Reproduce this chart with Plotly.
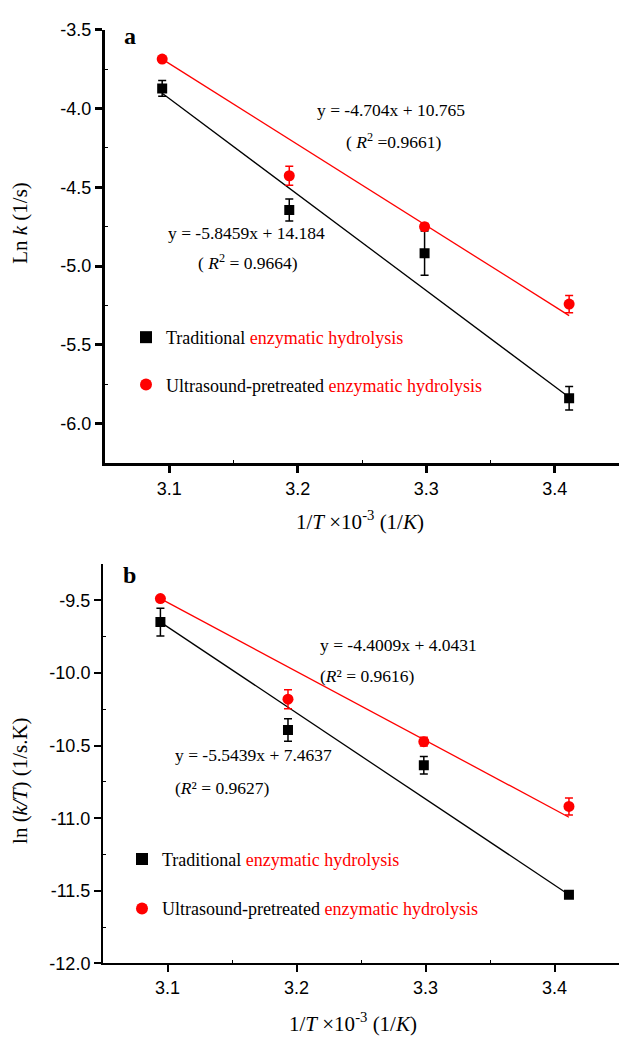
import plotly.graph_objects as go

# ---------------- data ----------------
x_vals = [3.0945, 3.1934, 3.2987, 3.4112]
fit_x = [3.0945, 3.4112]

a_trad = [-3.873, -4.644, -4.918, -5.838]
a_trad_err = [0.05, 0.07, 0.14, 0.075]
a_ultra = [-3.687, -4.427, -4.750, -5.241]
a_ultra_err = [0.0, 0.06, 0.02, 0.055]
a_trad_fit = [-3.904, -5.832]
a_ultra_fit = [-3.687, -5.314]

b_trad = [-9.649, -10.392, -10.635, -11.527]
b_trad_err = [0.095, 0.078, 0.06, 0.0]
b_ultra = [-9.487, -10.180, -10.473, -10.919]
b_ultra_err = [0.0, 0.065, 0.03, 0.058]
b_trad_fit = [-9.649, -11.527]
b_ultra_fit = [-9.487, -10.993]

trad_name = "Traditional <span style='color:#ff0000'>enzymatic hydrolysis</span>"
ultra_name = "Ultrasound-pretreated <span style='color:#ff0000'>enzymatic hydrolysis</span>"

SERIF = "Liberation Serif"
SANS = "Liberation Sans"
W, H = 619, 1045

fig = go.Figure()

def add_panel(xa, ya, trad, trad_err, ultra, ultra_err, trad_fit, ultra_fit, legend):
    fig.add_trace(go.Scatter(x=fit_x, y=trad_fit, mode="lines", line=dict(color="black", width=1.3),
                             xaxis=xa, yaxis=ya, showlegend=False, hoverinfo="skip"))
    fig.add_trace(go.Scatter(x=fit_x, y=ultra_fit, mode="lines", line=dict(color="#ff0000", width=1.3),
                             xaxis=xa, yaxis=ya, showlegend=False, hoverinfo="skip"))
    fig.add_trace(go.Scatter(x=x_vals, y=trad, mode="markers", name=trad_name,
                             marker=dict(symbol="square", color="black", size=10),
                             error_y=dict(type="data", array=trad_err, color="black", thickness=1.5, width=4),
                             xaxis=xa, yaxis=ya, legend=legend, legendgroup=legend + "t"))
    fig.add_trace(go.Scatter(x=x_vals, y=ultra, mode="markers", name=ultra_name,
                             marker=dict(symbol="circle", color="#ff0000", size=11),
                             error_y=dict(type="data", array=ultra_err, color="#ff0000", thickness=1.5, width=4),
                             xaxis=xa, yaxis=ya, legend=legend, legendgroup=legend + "u"))

add_panel("x", "y", a_trad, a_trad_err, a_ultra, a_ultra_err, a_trad_fit, a_ultra_fit, "legend")
add_panel("x2", "y2", b_trad, b_trad_err, b_ultra, b_ultra_err, b_trad_fit, b_ultra_fit, "legend2")

tickfont = dict(family=SANS, size=18, color="black")

def xaxis(domain, anchor, lw):
    return dict(domain=domain, anchor=anchor, range=[3.05, 3.45], tickvals=[3.1, 3.2, 3.3, 3.4],
                ticktext=["3.1", "3.2", "3.3", "3.4"], ticks="outside", ticklen=7, tickwidth=lw,
                tickcolor="black", showline=True, linecolor="black", linewidth=lw, showgrid=False,
                zeroline=False, tickfont=tickfont,
                minor=dict(tickvals=[3.15, 3.25, 3.35], ticks="inside", ticklen=3, tickwidth=1, tickcolor="black"))

def yaxis(domain, anchor, rng, tv, lw, minor):
    return dict(domain=domain, anchor=anchor, range=rng, tickvals=tv, ticktext=["%.1f" % v for v in tv],
                ticks="outside", ticklen=7, tickwidth=lw, tickcolor="black", showline=True,
                linecolor="black", linewidth=lw, showgrid=False, zeroline=False, tickfont=tickfont,
                minor=dict(tickvals=minor, ticks="inside", ticklen=3, tickwidth=1, tickcolor="black"))

def py(pix):
    return 1 - pix / H

fig.update_layout(
    width=W, height=H,
    margin=dict(l=0, r=0, t=0, b=0),
    paper_bgcolor="white", plot_bgcolor="white",
    xaxis=xaxis([105 / W, 1.0], "y", 3),
    yaxis=yaxis([py(462), py(20)], "x", [-6.25, -3.5], [-6.0, -5.5, -5.0, -4.5, -4.0, -3.5], 3,
                [-5.75, -5.25, -4.75, -4.25, -3.75]),
    xaxis2=xaxis([103 / W, 1.0], "y2", 2),
    yaxis2=yaxis([py(972), py(565)], "x2", [-12.0, -9.25],
                 [-12.0, -11.5, -11.0, -10.5, -10.0, -9.5], 2, [-11.75, -11.25, -10.75, -10.25, -9.75]),
    legend=dict(x=126 / W, y=py(315), xanchor="left", yanchor="top", bgcolor="rgba(0,0,0,0)",
                font=dict(family=SERIF, size=18, color="black"), tracegroupgap=21, itemsizing="constant"),
    legend2=dict(x=122 / W, y=py(847), xanchor="left", yanchor="top", bgcolor="rgba(0,0,0,0)",
                 font=dict(family=SERIF, size=18, color="black"), tracegroupgap=23, itemsizing="constant"),
)

def ann(text, x, y, size=17.5, anchor="center", angle=0):
    fig.add_annotation(text=text, x=x / W, y=py(y), xref="paper", yref="paper", showarrow=False,
                       xanchor=anchor, yanchor="middle", textangle=angle,
                       font=dict(family=SERIF, size=size, color="black"))

# panel a
ann("<b>a</b>", 130, 27, size=24)
ann("y = -4.704x + 10.765", 391, 102)
ann("( <i>R</i><sup>2</sup> =0.9661)", 393, 134)
ann("y = -5.8459x + 14.184", 246, 227)
ann("( <i>R</i><sup>2</sup> = 0.9664)", 248, 257)
ann("Ln <i>k</i> (1/s)", 20, 217, size=21, angle=-90)
ann("1/<i>T</i> ×10<sup>-3</sup> (1/<i>K</i>)", 360, 520, size=21)

# panel b
ann("<b>b</b>", 129, 576, size=24)
ann("y = -4.4009x + 4.0431", 318, 647, anchor="left")
ann("(<i>R</i>² = 0.9616)", 318, 679, anchor="left")
ann("y = -5.5439x + 7.4637", 173, 760, anchor="left")
ann("(<i>R</i>² = 0.9627)", 173, 793, anchor="left")
ann("ln (<i>k/T</i>) (1/s.K)", 20, 786, size=21, angle=-90)
ann("1/<i>T</i> ×10<sup>-3</sup> (1/<i>K</i>)", 353, 1032, size=21)

fig.write_html("out.html", config={"displayModeBar": False},
               post_script="document.body.style.margin='0';")
